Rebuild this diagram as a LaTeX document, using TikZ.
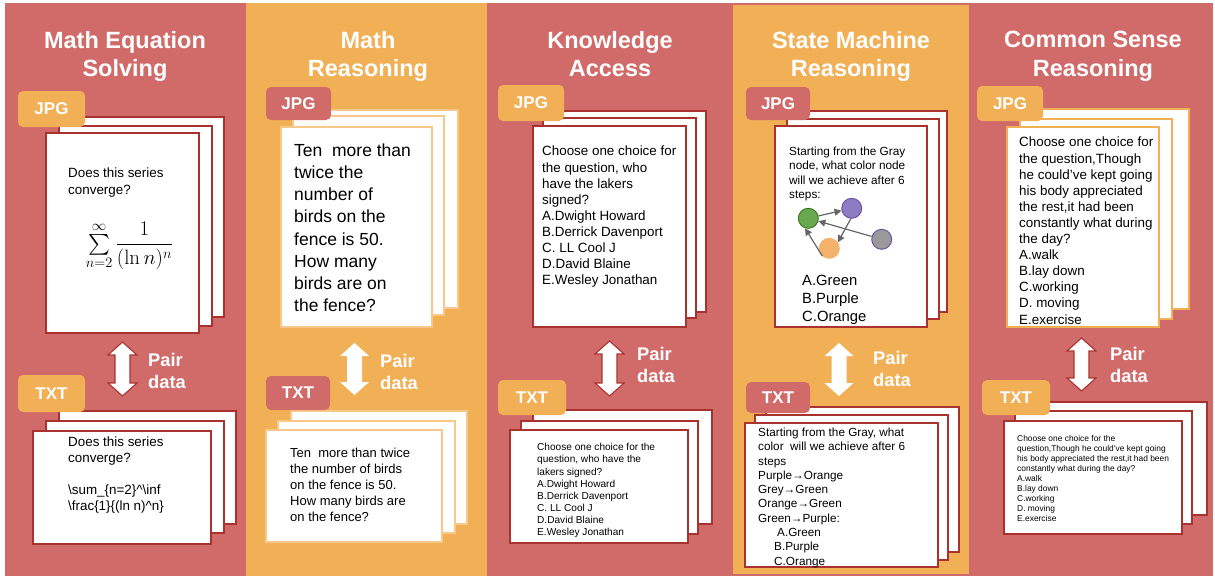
\documentclass[tikz,border=0pt]{standalone}
\usepackage{amsmath}
\usepackage[no-math]{fontspec}
\setmainfont{Liberation Sans}
\usetikzlibrary{arrows.meta}
\definecolor{cred}{HTML}{D16B6A}
\definecolor{corg}{HTML}{F2B056}
\definecolor{cdark}{HTML}{A8322D}
\definecolor{clight}{HTML}{F8C88A}
\definecolor{gfill}{HTML}{6AA84F}
\definecolor{gline}{HTML}{38761D}
\definecolor{pfill}{HTML}{8E7CC3}
\definecolor{pline}{HTML}{674EA7}
\definecolor{ofill}{HTML}{F6B26B}
\definecolor{yfill}{HTML}{999999}
\definecolor{edgec}{HTML}{666666}
\newcommand\dblarrow[4]{%
  \pgfmathsetmacro\arrL{#4-#3-26}%
  \draw[#1] (#2,#3) -- ++(14.5,13) -- ++(-7,0) -- ++(0,\arrL) -- ++(7,0) -- (#2,#4)
    -- ++(-14.5,-13) -- ++(7,0) -- ++(0,-\arrL) -- ++(-7,0) -- cycle;}
\tikzset{
  sheetR/.style={draw=cdark, line width=1.1pt, fill=white},
  sheetL/.style={draw=clight, line width=1.1pt, fill=white},
  sheetO/.style={draw=corg, line width=1.1pt, fill=white},
  tabbox/.style={rounded corners=5pt, draw=none, inner sep=0, text=white,
    font=\fontsize{17}{20}\selectfont\bfseries},
  coltitle/.style={anchor=north, text=white, font=\fontsize{23.5}{28.5}\selectfont\bfseries,
    align=center, inner sep=0},
  pairlbl/.style={anchor=north west, text=white, font=\fontsize{18.3}{22.5}\selectfont\bfseries,
    align=left, inner sep=0},
  body/.style={anchor=north west, align=left, inner sep=0, text=black},
  arrR/.style={fill=white, draw=cdark, line width=1.1pt, line join=miter},
  arrW/.style={fill=white, draw=none},
  gnode/.style={circle, minimum size=20pt, inner sep=0, line width=0.9pt},
  garrow/.style={draw=edgec, line width=1.2pt, -{Triangle[length=7pt,width=7pt]}},
}
\begin{document}
\begin{tikzpicture}[x=1pt,y=-1pt]
\useasboundingbox (0,0) rectangle (1215,579);
\fill[white] (0,0) rectangle (1215,579);
% columns
\fill[cred] (5,3) rectangle (246,576);
\fill[corg] (246,3) rectangle (487,576);
\fill[cred] (487,3) rectangle (731,576);
\fill[corg] (731,3) rectangle (970,576);
\draw[cred, line width=2pt] (732,4) rectangle (970,575);
\fill[cred] (970,3) rectangle (1213,576);

% ---------- column 1
\node[coltitle] (t1) at (125,31) {Math Equation\\Solving};
\draw[sheetR] (71,117) rectangle (224,317);
\draw[sheetR] (59,126) rectangle (212,326);
\draw[sheetR] (46,133) rectangle (199,333);
\node[tabbox, fill=corg, minimum width=67pt, minimum height=36pt] (j1) at (51.5,109) {JPG};
\node[body, font=\fontsize{13.4}{17}\selectfont] (q1j) at (68,168) {Does this series\\converge?};
\node[inner sep=0] (f1) at (129.5,246) {\fontsize{20}{24}\selectfont$\displaystyle\mathop{\textstyle\sum}\limits_{n=2}^{\infty}\frac{1}{(\ln n)^{n}}$};
\dblarrow{arrR}{122.5}{342}{396}
\node[pairlbl] (p1) at (148,353) {Pair\\data};
\draw[sheetR] (59,411) rectangle (236,524);
\draw[sheetR] (46,421) rectangle (224,533);
\draw[sheetR] (33,431) rectangle (211,544);
\node[tabbox, fill=corg, minimum width=67pt, minimum height=37pt] (x1) at (51.5,393.5) {TXT};
\node[body, font=\fontsize{13.4}{16}\selectfont] (q1t) at (68,437) {Does this series\\converge?\\[16pt]\textbackslash sum\_\{n=2\}\textasciicircum\textbackslash inf\\\textbackslash frac\{1\}\{(ln n)\textasciicircum n\}};

% ---------- column 2
\node[coltitle] (t2) at (368,31) {Math\\Reasoning};
\draw[sheetL] (307,110) rectangle (458,308);
\draw[sheetL] (293,116) rectangle (444,315);
\draw[sheetL] (281,127) rectangle (432,327);
\node[tabbox, fill=cred, minimum width=65pt, minimum height=33pt] (j2) at (298.5,103.5) {JPG};
\node[body, font=\fontsize{17.5}{22.2}\selectfont] (q2j) at (294,143.5) {Ten~ more than\\twice the\\number of\\birds on the\\fence is 50.\\How many\\birds are on\\the fence?};
\dblarrow{arrW}{354.5}{343}{395}
\node[pairlbl] (p2) at (380,354) {Pair\\data};
\draw[sheetL] (291,411) rectangle (467,524);
\draw[sheetL] (278,421) rectangle (455,533);
\draw[sheetL] (266,430) rectangle (442,542);
\node[tabbox, fill=cred, minimum width=64pt, minimum height=34pt] (x2) at (298,393) {TXT};
\node[body, font=\fontsize{13}{16}\selectfont] (q2t) at (290,448) {Ten~ more than twice\\the number of birds\\on the fence is 50.\\How many birds are\\on the fence?};

% ---------- column 3
\node[coltitle] (t3) at (610,31) {Knowledge\\Access};
\draw[sheetR] (553,111) rectangle (706,312);
\draw[sheetR] (543,118) rectangle (696,318);
\draw[sheetR] (533,126) rectangle (686,327);
\node[tabbox, fill=corg, minimum width=66pt, minimum height=36pt] (j3) at (531,103) {JPG};
\node[body, font=\fontsize{13.4}{16.1}\selectfont] (q3j) at (542,146) {Choose one choice for\\the question, who\\have the lakers\\signed?\\A.Dwight Howard\\B.Derrick Davenport\\C. LL Cool J\\D.David Blaine\\E.Wesley Jonathan};
\dblarrow{arrR}{609.5}{341}{396}
\node[pairlbl] (p3) at (637,347) {Pair\\data};
\draw[sheetR] (533,410) rectangle (712,524);
\draw[sheetR] (521,421) rectangle (698,534);
\draw[sheetR] (510,430) rectangle (688,543);
\node[tabbox, fill=corg, minimum width=68pt, minimum height=35pt] (x3) at (532,397.5) {TXT};
\node[body, font=\fontsize{10.1}{12.1}\selectfont] (q3t) at (537,443.3) {Choose one choice for the\\question, who have the\\lakers signed?\\A.Dwight Howard\\B.Derrick Davenport\\C. LL Cool J\\D.David Blaine\\E.Wesley Jonathan};

% ---------- column 4
\node[coltitle] (t4) at (851,31) {State Machine\\Reasoning};
\draw[sheetR] (795,111) rectangle (947,312);
\draw[sheetR] (787,119) rectangle (939,319);
\draw[sheetR] (775,126) rectangle (927,327);
\node[tabbox, fill=cred, minimum width=64pt, minimum height=33pt] (j4) at (778,103.5) {JPG};
\node[body, font=\fontsize{11.8}{14.4}\selectfont] (q4j) at (789,146.6) {Starting from the Gray\\node, what color node\\will we achieve after 6\\steps:};
\node[gnode, fill=gfill, draw=gline] (gG) at (808.3,218.3) {};
\node[gnode, fill=pfill, draw=pline] (gP) at (851.7,208.3) {};
\node[gnode, fill=yfill, draw=pline] (gY) at (881.7,239.3) {};
\node[gnode, fill=ofill, draw=ofill] (gO) at (829.3,248.3) {};
\draw[garrow] (gG) -- (gP);
\draw[garrow] (gP.265) -- (gO.35);
\draw[garrow] (gY) -- (gG);
\draw[garrow] (gO.228) -- (gG.252);
\node[body, font=\fontsize{14.8}{18}\selectfont] (o4j) at (802,274.5) {A.Green\\B.Purple\\C.Orange};
\dblarrow{arrW}{839}{343}{396}
\node[pairlbl] (p4) at (873,351) {Pair\\data};
\draw[sheetR] (766,407) rectangle (959,552);
\draw[sheetR] (755,415) rectangle (948,560);
\draw[sheetR] (745,423) rectangle (938,567);
\node[tabbox, fill=cred, minimum width=64pt, minimum height=31pt] (x4) at (778,397.5) {TXT};
\node[body, font=\fontsize{11.75}{14.3}\selectfont] (q4t) at (758,427.7) {Starting from the Gray, what\\color~ will we achieve after 6\\steps\\Purple→Orange\\Grey→Green\\Orange→Green\\Green→Purple:\\\hspace*{19pt}A.Green\\\hspace*{16pt}B.Purple\\\hspace*{16pt}C.Orange};

% ---------- column 5
\node[coltitle] (t5) at (1093,31) {Common Sense\\Reasoning};
\draw[sheetO] (1037,109) rectangle (1189,309);
\draw[sheetO] (1020,119) rectangle (1172,319);
\draw[sheetO] (1007,127) rectangle (1159,327);
\node[tabbox, fill=corg, minimum width=66pt, minimum height=35pt] (j5) at (1010,103.5) {JPG};
\node[body, font=\fontsize{13.4}{16.1}\selectfont] (q5j) at (1019,137) {Choose one choice for\\the question,Though\\he could've kept going\\his body appreciated\\the rest,it had been\\constantly what during\\the day?\\A.walk\\B.lay down\\C.working\\D. moving\\E.exercise};
\dblarrow{arrR}{1081.5}{338}{391}
\node[pairlbl] (p5) at (1110,347) {Pair\\data};
\draw[sheetR] (1029,402) rectangle (1207,515);
\draw[sheetR] (1015,411) rectangle (1192,524);
\draw[sheetR] (1004,421) rectangle (1182,534);
\node[tabbox, fill=corg, minimum width=68pt, minimum height=35pt] (x5) at (1016,397.5) {TXT};
\node[body, font=\fontsize{8.4}{10}\selectfont] (q5t) at (1017,434.9) {Choose one choice for the\\question,Though he could've kept going\\his body appreciated the rest,it had been\\constantly what during the day?\\A.walk\\B.lay down\\C.working\\D. moving\\E.exercise};
\end{tikzpicture}
\end{document}
